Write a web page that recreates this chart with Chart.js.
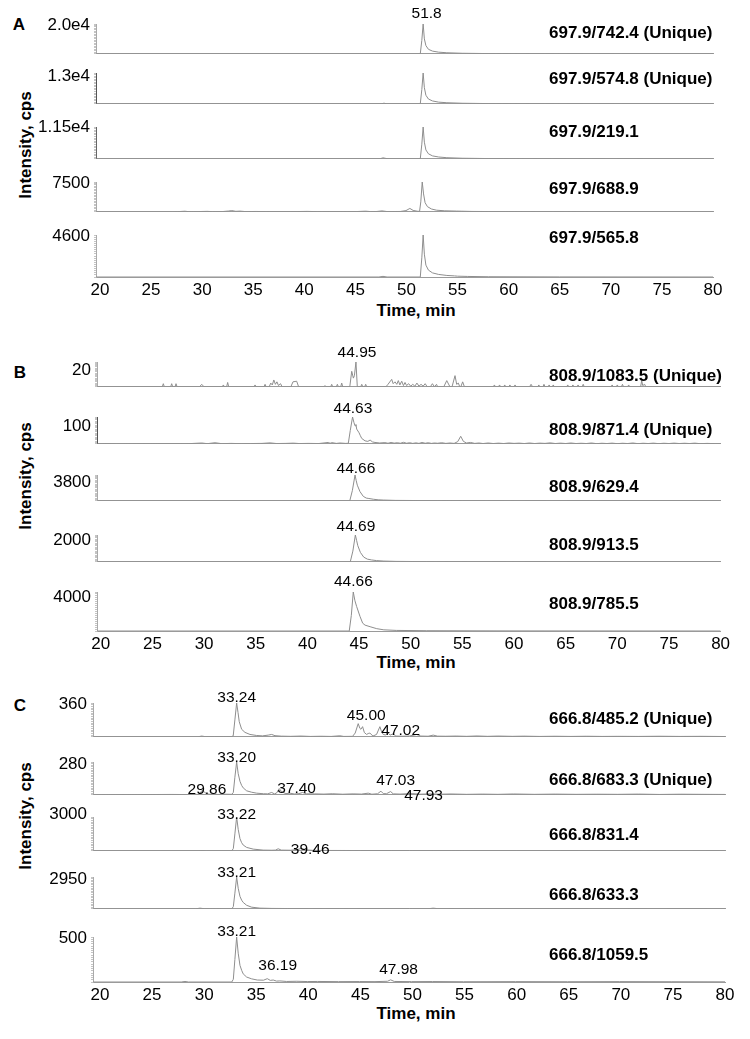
<!DOCTYPE html>
<html><head><meta charset="utf-8">
<script src="https://cdn.jsdelivr.net/npm/chart.js@4.4.1/dist/chart.umd.min.js"></script>
<style>
html,body{margin:0;padding:0;background:#fff;}
#page{position:relative;width:750px;height:1039px;overflow:hidden;font-family:'Liberation Sans',Arial,sans-serif;background:#fff;}
#page canvas{position:absolute;left:0;}
.txt{position:absolute;white-space:nowrap;color:#000;font-weight:bold;font-size:17px;line-height:1;}
.c{transform:translate(-50%,-50%);}
.r{transform:translate(-50%,-50%) rotate(-90deg);}
</style></head><body><div id="page"></div>
<script>
// ---------- data ----------
const xTicks = [20,25,30,35,40,45,50,55,60,65,70,75,80];

const channelsA = ['697.9/742.4 (Unique)','697.9/574.8 (Unique)','697.9/219.1','697.9/688.9','697.9/565.8'];
const yLabelsA = ['2.0e4','1.3e4','1.15e4','7500','4600'];
const yMaxA = [20000,13000,11500,7500,4600];
const notesA = [['51.8'],[],[],[],[]];

const channelsB = ['808.9/1083.5 (Unique)','808.9/871.4 (Unique)','808.9/629.4','808.9/913.5','808.9/785.5'];
const yLabelsB = ['20','100','3800','2000','4000'];
const yMaxB = [20,100,3800,2000,4000];
const notesB = [['44.95'],['44.63'],['44.66'],['44.69'],['44.66']];

const channelsC = ['666.8/485.2 (Unique)','666.8/683.3 (Unique)','666.8/831.4','666.8/633.3','666.8/1059.5'];
const yLabelsC = ['360','280','3000','2950','500'];
const yMaxC = [360,280,3000,2950,500];
const notesC = [['33.24','45.00','47.02'],['33.20','29.86','37.40','47.03','47.93'],['33.22','39.46'],['33.21'],['33.21','36.19','47.98']];

// traces: [time (min), intensity (cps)]
const traceA1 = [[19.61,0],[51.35,0],[51.5,9000],[51.63,20000],[51.75,10000],[51.9,5500],[52.15,3000],[52.55,1800],[53.15,1100],[53.95,700],[55.45,350],[58,150],[65,50],[80,0]];
const traceA2 = [[19.61,0],[47.5,0],[47.8,250],[48.1,0],[51.35,0],[51.5,6000],[51.63,13000],[51.75,6800],[51.9,3600],[52.15,2000],[52.55,1200],[53.15,700],[53.95,450],[55.45,230],[58,100],[65,30],[80,0]];
const traceA3 = [[19.61,0],[47.4,0],[47.7,350],[48.0,120],[48.3,0],[51.35,0],[51.5,5300],[51.63,11500],[51.75,6000],[51.9,3200],[52.15,1800],[52.55,1050],[53.15,650],[53.95,400],[55.45,200],[58,90],[65,30],[80,0]];
const traceA4 = [[19.61,0],[27.1,0],[27.6,40],[28.3,150],[28.7,40],[29.6,60],[30.5,110],[31.0,50],[32.0,60],[32.6,200],[32.9,300],[33.3,120],[33.7,170],[34.2,60],[35.3,80],[36.3,50],[37.8,70],[38.8,50],[40.3,100],[41.3,40],[42.3,70],[43.8,50],[45.1,60],[46.0,160],[46.5,50],[47.1,80],[47.6,230],[48.1,60],[49.4,80],[49.95,300],[50.33,850],[50.65,350],[51.05,150],[51.28,100],[51.4,2500],[51.54,7500],[51.67,4500],[51.82,2300],[52.05,1300],[52.45,700],[52.95,400],[53.75,250],[54.9,180],[55.4,150],[56.4,90],[58,70],[60,50],[62,40],[66,20],[70,0],[80,0]];
const traceA5 = [[19.61,0],[47.3,0],[47.7,70],[48.1,0],[51.35,0],[51.5,2100],[51.63,4600],[51.75,2500],[51.9,1300],[52.15,750],[52.55,450],[53.15,280],[53.95,170],[54.7,120],[55.0,90],[56,60],[58,30],[65,10],[80,0]];

const traceB1 = [[19.63,0],
 [25.95,0],[26.05,2.5],[26.15,0],[26.76,0],[26.86,2.5],[26.96,0],[27.18,0],[27.28,2.5],[27.38,0],
 [29.55,0],[29.77,2],[29.99,0],[31.76,0],[31.86,1.5],[31.96,0],[32.18,0],[32.28,3.5],[32.38,0],
 [34.83,0],[34.93,1.5],[35.03,0],[35.8,0],[35.9,2],[36.0,0],
 [36.3,0],[36.45,3],[36.6,1.5],[36.75,5.5],[36.9,2],[37.05,4],[37.2,1],[37.4,2.5],[37.55,0],
 [38.4,0],[38.6,4],[38.96,4.5],[39.15,0],[41.6,0],[41.7,1],[41.8,0],[42.25,0],[42.35,2],[42.45,0],
 [42.8,0],[42.9,2],[43.0,0],[43.22,0],[43.32,3],[43.42,0],
 [44.1,0],[44.29,12.5],[44.45,7],[44.55,9],[44.7,20],[44.83,0],
 [45.16,0],[45.26,2],[45.36,0],[45.54,0],[45.64,2],[45.74,0],
 [47.6,0],[47.8,2],[48.16,6],[48.3,2.5],[48.48,4],[48.65,2],[48.8,5],[48.95,1.5],[49.13,4.5],[49.3,1],[49.45,3.5],[49.6,1],[49.8,2.5],[50.0,0.5],[50.2,2],[50.4,0.5],[50.6,3],[50.8,0.5],[51.0,2],[51.2,0.5],[51.4,2.5],[51.6,0],[51.9,0],[52.1,2.5],[52.3,0],[52.5,2],[52.6,0],
 [53.2,0],[53.49,5],[53.8,0],[54.0,0],[54.29,9],[54.45,2],[54.61,3],[54.75,0],[54.85,0],[55.03,4],[55.2,0],
 [58.0,0],[58.1,1.5],[58.2,0],[58.5,0],[58.6,1.5],[58.7,0],[59.0,0],[59.1,1.5],[59.2,0],[59.5,0],[59.6,1.5],[59.7,0],[60.0,0],[60.1,1.5],[60.2,0],
 [61.5,0],[61.65,2],[61.8,0],[62.3,0],[62.4,1.5],[62.5,0],[62.8,0],[62.9,2],[63.0,0],[63.3,0],[63.4,1.5],[63.5,0],[63.7,0],[63.8,1.5],[63.9,0],
 [65.1,0],[65.2,1.5],[65.3,0],[65.6,0],[65.7,1.5],[65.8,0],[66.1,0],[66.2,1.5],[66.3,0],[66.6,0],[66.7,2],[66.8,0],
 [69.4,0],[69.5,1.5],[69.6,0],[69.9,0],[70.0,1.5],[70.1,0],[70.4,0],[70.5,2],[70.6,0],[71.0,0],[71.1,1.5],[71.2,0],
 [72.26,0],[72.36,5],[72.46,1],[72.65,2],[72.75,0],[80,0]];
const traceB2 = [[19.63,0],[20.5,1],[21.5,0],[24,0.5],[26.5,1],[28.5,0.5],[29.77,3],[30.3,0.5],[31.06,4],[31.7,0.5],[32.6,1.5],[33.6,0.5],[34.5,1],[35.6,1.5],[36.38,3.5],[37.0,1],[37.9,1.5],[38.64,2.5],[39.2,1],[40.1,1.5],[41.1,1],[42.02,5],[42.2,2],[42.35,4.5],[42.8,1.5],[43.16,3],[43.7,1.5],[43.96,2],[44.15,50],[44.37,100],[44.5,80],[44.61,67],[44.7,72],[44.77,55],[45.0,41],[45.13,30],[45.26,20],[45.58,11],[45.85,9],[46.07,14],[46.3,7],[46.54,5],[47.0,3],[47.5,4.5],[47.8,2],[48.1,5],[48.4,2.5],[48.7,4],[49.0,2],[49.3,5.5],[49.6,2],[49.9,4],[50.2,1.5],[50.5,3.5],[50.8,1.5],[51.1,5],[51.4,2],[51.7,4],[52.0,1.5],[52.3,3],[52.6,2],[53.0,4],[53.4,1.5],[53.8,3],[54.2,1.5],[54.55,8],[54.84,28],[55.1,9],[55.4,3],[55.8,5],[56.2,1.5],[56.6,3],[57.0,1],[57.5,3],[58.0,1],[58.5,2.5],[59.0,1],[59.5,3],[60.0,1.5],[60.5,2.5],[61.0,1],[61.5,3],[62.0,1],[62.5,2.5],[63.0,1.5],[63.5,3.5],[64.0,1],[64.5,2.5],[65.0,1],[65.5,3],[66.0,1],[66.5,2],[67.0,1],[67.5,3],[68.0,0.5],[68.5,2],[69.0,1],[69.5,2.5],[70.0,0.5],[70.5,2],[71.0,1],[71.5,3],[72.0,0.5],[72.5,2],[73.0,1],[73.5,2.5],[74.0,0.5],[74.5,2],[75.0,1],[75.5,2.5],[76.0,1],[76.5,2],[77.0,1],[77.5,2.5],[78.0,0.5],[78.7,1.5],[79.5,0.5],[80,0.5]];
const traceB3 = [[19.63,0],[44.1,0],[44.35,1500],[44.61,3800],[44.72,3000],[44.83,2300],[45.09,1350],[45.41,650],[45.7,400],[45.95,340],[46.38,230],[46.85,150],[47.35,110],[48.5,60],[50.5,40],[55,20],[60,10],[80,0]];
const traceB4 = [[19.63,0],[44.15,0],[44.4,800],[44.64,2000],[44.76,1600],[44.88,1200],[45.13,700],[45.45,350],[45.8,200],[46.2,140],[46.7,90],[47.4,55],[48.6,30],[51.5,15],[60,5],[80,0]];
const traceB5 = [[19.63,0],[44.05,0],[44.25,1600],[44.44,4000],[44.6,3100],[44.77,2500],[45.09,1500],[45.35,800],[45.58,600],[46.07,440],[46.71,240],[47.4,120],[48.6,60],[51.5,30],[60,10],[80,0]];

const traceC1 = [[19.33,0],[29.4,0],[29.76,8],[30.1,2],[31,3],[31.9,2],[32.65,3],[32.79,10],[32.95,180],[33.12,360],[33.25,260],[33.37,160],[33.6,80],[33.92,47],[34.4,25],[35.04,14],[35.6,10],[36.15,18],[36.48,25],[36.8,12],[37.4,7],[38.3,5],[39.3,8],[40.2,4],[41.2,6],[42.2,4],[43.03,11],[43.4,4],[44.25,5],[44.5,40],[44.79,140],[44.95,90],[45.05,80],[45.21,108],[45.38,45],[45.6,25],[45.75,35],[45.91,40],[46.2,8],[46.55,25],[46.87,108],[47.03,55],[47.19,25],[47.4,20],[47.67,40],[47.85,18],[48.15,32],[48.4,8],[49.0,6],[49.7,8],[50.39,25],[50.8,8],[51.5,6],[51.99,18],[52.4,7],[53.2,6],[54.2,8],[55.2,5],[56.2,9],[57.2,5],[58.2,8],[59.6,5],[60.7,7],[62.2,4],[63.7,6],[65.2,4],[66.7,6],[68.2,4],[69.7,5],[71.7,4],[73.7,6],[75.7,4],[77.7,5],[80,3]];
const traceC2 = [[19.33,0],[23.9,2],[26.9,3],[28.4,2],[29.5,4],[29.82,39],[30.0,25],[30.24,8],[30.6,4],[30.87,9],[31.3,3],[32.1,5],[32.65,4],[32.8,20],[32.95,150],[33.12,280],[33.27,180],[33.44,115],[33.6,80],[33.75,59],[34.08,34],[34.56,22],[35.04,14],[35.7,9],[36.1,8],[36.48,20],[36.75,8],[36.95,15],[37.21,53],[37.4,30],[37.59,20],[37.85,10],[38.23,14],[38.65,7],[39.1,10],[39.45,20],[39.8,8],[40.6,8],[41.5,6],[42.3,9],[43.3,5],[44.3,8],[45.1,6],[45.75,14],[46.1,5],[46.65,9],[46.97,31],[47.2,10],[47.5,9],[47.9,28],[48.15,8],[48.8,6],[49.5,9],[50.04,10],[50.7,5],[51.7,8],[52.7,5],[53.7,7],[55.2,4],[56.7,6],[58.2,4],[59.7,7],[61.7,4],[63.7,6],[65.7,4],[67.7,5],[69.7,4],[71.7,6],[73.7,3],[75.7,5],[77.7,4],[80,3]];
const traceC3 = [[19.33,0],[29.4,0],[29.8,30],[30.2,0],[32.65,0],[32.8,200],[32.95,1500],[33.12,3000],[33.27,1900],[33.44,1080],[33.6,720],[33.75,510],[34.08,300],[34.71,150],[35.67,60],[36.5,50],[36.85,60],[37.11,180],[37.4,60],[38.3,50],[38.95,110],[39.36,220],[39.75,90],[40.4,40],[42,30],[45,25],[48,25],[50,20],[52,25],[55,15],[60,15],[70,10],[80,5]];
const traceC4 = [[19.33,0],[29.2,0],[29.6,60],[30.0,10],[32.65,0],[32.8,200],[32.95,1450],[33.12,2950],[33.27,1900],[33.44,1150],[33.6,800],[33.75,590],[34.08,325],[34.56,150],[35.36,60],[36.5,35],[38,25],[40,20],[45,15],[50,15],[51.6,15],[51.99,60],[52.4,15],[56,10],[65,8],[80,5]];
const traceC5 = [[19.33,0],[27.8,0],[28.16,6],[28.5,0],[32.65,0],[32.8,30],[32.95,250],[33.12,500],[33.27,320],[33.44,185],[33.6,130],[33.75,90],[34.08,55],[34.56,35],[35.1,22],[35.7,20],[36.06,37],[36.35,18],[36.63,22],[36.95,10],[37.27,12],[37.9,6],[38.9,8],[39.9,5],[40.9,6],[42.9,4],[44.9,5],[46.4,4],[47.6,8],[47.9,24],[48.25,6],[49.9,4],[51.9,5],[54.9,3],[59.9,4],[64.9,3],[69.9,4],[74.9,3],[80,2]];

// ---------- layout (pixels) ----------
const FONT = "'Liberation Sans', Arial, sans-serif";
const panels = [
 { letter:'A', channels:channelsA, yLabels:yLabelsA, yMax:yMaxA, notes:notesA,
   traces:[traceA1,traceA2,traceA3,traceA4,traceA5],
   axisLeft:96, xMin:19.61, right:37,
   tops:[24,73,127,182,235], bases:[66,116,171,224,277],
   yLabOff:[1,3,0,1,1], chanDy:[9,6,5,7,3],
   axisCol:['#aaa','#555','#666','#aaa','#aaa'],
   noteAt:[[[51.97,-10]],[],[],[],[]],
   letterXY:[19,24], yTitleY:145, xTitleY:310 },
 { letter:'B', channels:channelsB, yLabels:yLabelsB, yMax:yMaxB, notes:notesB,
   traces:[traceB1,traceB2,traceB3,traceB4,traceB5],
   axisLeft:97, xMin:19.63, right:29.4,
   tops:[362,417,475,535,592], bases:[399,456,513,574,631],
   yLabOff:[8,9,7,5,5], chanDy:[14,13,12,10,12],
   axisCol:['#aaa','#555','#aaa','#aaa','#aaa'],
   noteAt:[[[44.8,-9]],[[44.41,-8]],[[44.7,-6]],[[44.7,-8]],[[44.45,-10]]],
   letterXY:[20,372], yTitleY:476, xTitleY:662 },
 { letter:'C', channels:channelsC, yLabels:yLabelsC, yMax:yMaxC, notes:notesC,
   traces:[traceC1,traceC2,traceC3,traceC4,traceC5],
   axisLeft:93, xMin:19.33, right:25,
   tops:[703,762,817,877,937], bases:[749,807,863,921,982],
   yLabOff:[1,2,-3,2,1], chanDy:[16,18,18,18,18],
   axisCol:['#aaa','#aaa','#aaa','#aaa','#aaa'],
   noteAt:[[[33.12,-5],[45.56,13],[48.87,28]],
           [[33.12,-4],[30.27,28],[38.87,27],[48.38,19],[51.06,34]],
           [[33.12,-2],[40.18,33]],
           [[33.12,-4]],
           [[33.12,-5],[37.06,29],[48.66,33]]],
   letterXY:[20,705], yTitleY:816, xTitleY:1013 }
];

const page = document.getElementById('page');
function addText(txt, x, y, cls){
  const d = document.createElement('div');
  d.className = 'txt ' + cls; d.textContent = txt;
  d.style.left = x + 'px'; d.style.top = y + 'px';
  page.appendChild(d);
}

const labelPlugin = {
  id: 'chanLabels',
  afterDraw(chart, args, o){
    const ctx = chart.ctx, xs = chart.scales.x, top = chart.chartArea.top;
    ctx.save();
    ctx.fillStyle = '#000';
    ctx.textBaseline = 'middle';
    ctx.font = 'bold 17px ' + FONT;
    ctx.textAlign = 'left';
    ctx.fillText(o.channel, 549, top + o.chanDy);
    ctx.font = '15.5px ' + FONT;
    ctx.textAlign = 'center';
    o.notes.forEach((t, k) => {
      const [tv, dy] = o.noteAt[k];
      ctx.fillText(t, xs.getPixelForValue(tv), top + dy);
    });
    ctx.restore();
  }
};

panels.forEach(p => {
  addText(p.letter, p.letterXY[0], p.letterXY[1], 'c');
  addText('Intensity, cps', 25, p.yTitleY, 'r');
  addText('Time, min', 416, p.xTitleY, 'c');
  for (let i = 0; i < 5; i++) {
    const bottom = (i === 4);
    const PT = 30, PB = 2, xH = bottom ? 32 : 0;
    const h = p.bases[i] - p.tops[i];
    const H = PT + h + xH + PB;
    const cv = document.createElement('canvas');
    cv.width = 750; cv.height = H;
    cv.style.top = (p.tops[i] - PT) + 'px';
    cv.style.width = '750px'; cv.style.height = H + 'px';
    page.appendChild(cv);
    const ymax = p.yMax[i], ylab = p.yLabels[i];
    new Chart(cv.getContext('2d'), {
      type: 'line',
      data: { datasets: [{
        data: p.traces[i].map(([x, y]) => ({x, y})),
        borderColor: '#8e8e8e', borderWidth: 1, pointRadius: 0, fill: false, tension: 0
      }]},
      options: {
        responsive: false, animation: false, devicePixelRatio: 1,
        layout: { padding: { top: PT, bottom: PB, left: 0, right: p.right } },
        plugins: {
          legend: { display: false }, tooltip: { enabled: false },
          chanLabels: { channel: p.channels[i], chanDy: p.chanDy[i], notes: p.notes[i], noteAt: p.noteAt[i] }
        },
        scales: {
          x: {
            type: 'linear', min: p.xMin, max: 80,
            afterBuildTicks(s){ s.ticks = xTicks.map(v => ({value: v})); },
            afterFit(s){ s.height = xH; },
            grid: { display: false, drawTicks: false },
            border: { display: true, color: '#9a9a9a', width: 1 },
            ticks: { display: bottom, autoSkip: false, maxRotation: 0, padding: 3, color: '#000', font: { size: 17, family: FONT } }
          },
          y: {
            min: 0, max: ymax,
            afterBuildTicks(s){ s.ticks = Array.from({length: 21}, (_, k) => ({value: ymax * k / 20})); },
            afterFit(s){ s.width = p.axisLeft; },
            grid: { display: true, drawOnChartArea: false, drawTicks: true, tickLength: 2, color: '#c4c4c4' },
            border: { display: true, color: p.axisCol[i], width: 1 },
            ticks: { autoSkip: false, padding: 4, labelOffset: p.yLabOff[i], color: '#000', font: { size: 17, family: FONT },
                     callback: (v, k, arr) => (k === arr.length - 1 ? ylab : '') }
          }
        }
      },
      plugins: [labelPlugin]
    });
  }
});
</script></body></html>
